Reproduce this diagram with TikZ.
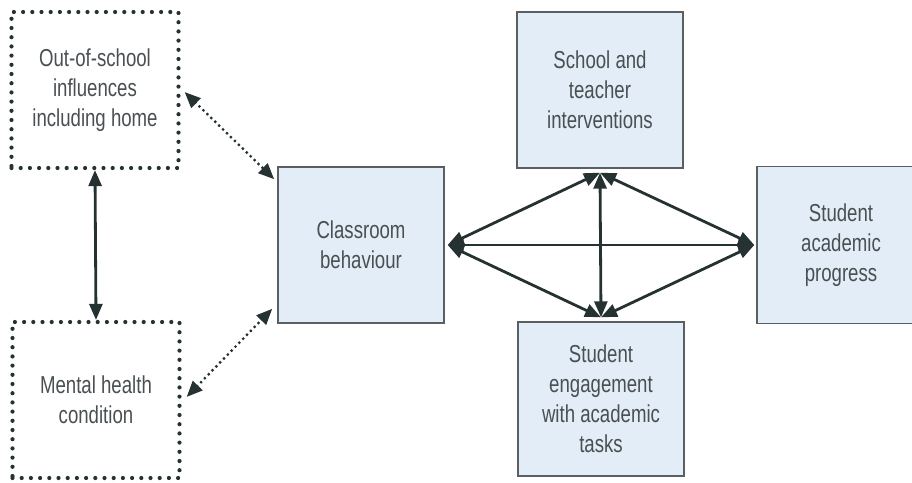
\documentclass[tikz,border=0pt]{standalone}
\usepackage{fontspec}
\setmainfont{Liberation Sans}[FakeStretch=0.76]
\usetikzlibrary{arrows.meta,calc}
\definecolor{boxfill}{HTML}{E2EDF7}
\definecolor{boxline}{HTML}{5A5F62}
\definecolor{txt}{HTML}{4A4F52}
\definecolor{arr}{HTML}{263232}
\begin{document}
\begin{tikzpicture}[x=1pt,y=-1pt,
  every node/.style={font=\fontsize{24.5}{30}\selectfont, text=txt, align=center, inner sep=0pt},
  bluebox/.style={draw=boxline, line width=1.4pt, fill=boxfill, minimum width=166pt, minimum height=156pt},
  dotbox/.style={draw=arr, line width=4.2pt, line cap=round, dash pattern=on 0pt off 9.2pt, minimum width=167pt, minimum height=156pt},
  solidarr/.style={draw=arr, line width=2.8pt, {Triangle[length=16pt,width=13pt]}-{Triangle[length=16pt,width=13pt]}},
  dotarr/.style={draw=arr, line width=3.2pt, line cap=round, dash pattern=on 0pt off 5.5pt, {Triangle[length=16pt,width=13pt]}-{Triangle[length=16pt,width=13pt]}}
]
\useasboundingbox (0,0) rectangle (912,482);
\clip (0,0) rectangle (912,482);
\node[dotbox] (home) at (95,90) {Out-of-school\\influences\\including home};
\node[dotbox] (mental) at (96,400) {Mental health\\condition};
\node[bluebox] (class) at (361,245) {Classroom\\behaviour};
\node[bluebox] (school) at (600,90) {School and\\teacher\\interventions};
\node[bluebox, minimum height=154pt] (engage) at (601,399) {Student\\engagement\\with academic\\tasks};
\node[bluebox, minimum width=168pt, minimum height=157pt] (prog) at (841,245) {Student\\academic\\progress};

\draw[solidarr] (home.south) -- (mental.north);
\draw[dotarr] ([xshift=4pt,yshift=-2pt]home.east) -- ([xshift=-3pt,yshift=-13pt]class.north west);
\draw[dotarr] ([xshift=5pt,yshift=3pt]mental.east) -- ([xshift=-5pt,yshift=15pt]class.south west);

\coordinate (sb) at ([yshift=-4pt]school.south);
\coordinate (et) at ([yshift=4pt]engage.north);
\coordinate (ce) at ([xshift=3pt]class.east);
\coordinate (pw) at ([xshift=-2pt]prog.west);
\draw[solidarr] (ce) -- (sb);
\draw[solidarr] (ce) -- (et);
\draw[solidarr] (ce) -- (pw);
\draw[solidarr] (sb) -- (et);
\draw[solidarr] (pw) -- (sb);
\draw[solidarr] (pw) -- (et);
\end{tikzpicture}
\end{document}
